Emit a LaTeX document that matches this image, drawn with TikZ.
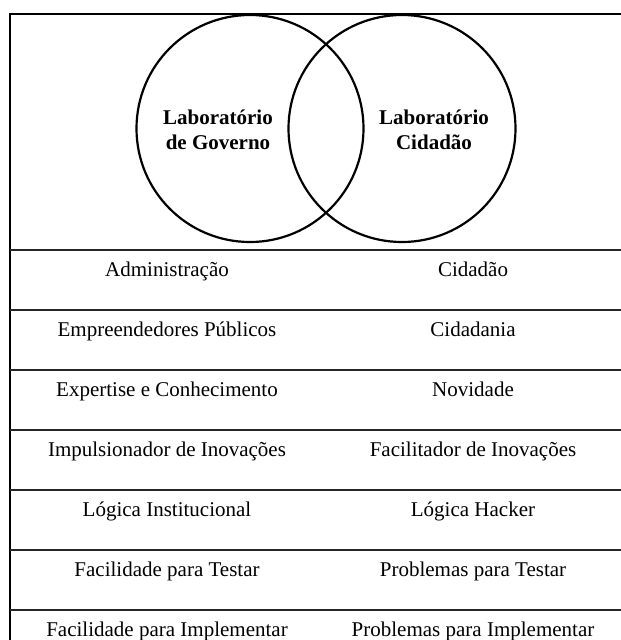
\documentclass[tikz,border=0pt]{standalone}
\usepackage{fontspec}
\setmainfont{Liberation Serif}
\begin{document}
\begin{tikzpicture}[x=1pt,y=-1pt,
  frame/.style={line width=2pt,black},
  rowline/.style={line width=1.6pt,black!85},
  venn/.style={draw,circle,line width=2.2pt,minimum size=227pt,inner sep=0pt},
  lab/.style={font=\fontsize{21}{25}\selectfont\bfseries,align=center,inner sep=0pt},
  cell/.style={font=\fontsize{21}{25}\selectfont,anchor=base,inner sep=0pt}]
\useasboundingbox (0,0) rectangle (621,640);
% frame
\coordinate (tl) at (10,14);
\coordinate (tr) at (621,14);
\coordinate (bl) at (10,640);
\draw[frame] (tr) -- (tl) -- (bl);
% circles
\node[venn] (gov) at (250,128.5) {};
\node[venn] (cid) at (402,128.5) {};
\node[lab] (govlab) at (218,130) {Laboratório\\de Governo};
\node[lab] (cidlab) at (434,130) {Laboratório\\Cidadão};
% row lines
\foreach \y [count=\i] in {250,310,370,430,490,550,610}{
  \coordinate (l\i) at (10,\y);
  \coordinate (r\i) at (621,\y);
  \draw[rowline] (l\i) -- (r\i);
}
% cells
\foreach \a/\b [count=\i] in {Administração/Cidadão,
  Empreendedores Públicos/Cidadania,
  Expertise e Conhecimento/Novidade,
  Impulsionador de Inovações/Facilitador de Inovações,
  Lógica Institucional/Lógica Hacker,
  Facilidade para Testar/Problemas para Testar,
  Facilidade para Implementar/Problemas para Implementar}{
  \pgfmathsetmacro{\yy}{250+60*(\i-1)+26}
  \node[cell] (a\i) at (167,\yy) {\a};
  \node[cell] (b\i) at (473,\yy) {\b};
}
\end{tikzpicture}
\end{document}
